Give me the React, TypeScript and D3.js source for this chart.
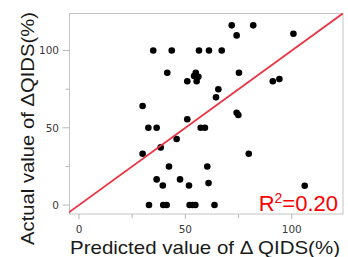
import React from 'react';
import * as d3 from 'd3';

// predicted vs actual change of QIDS (%)
const predicted = [
  71.8, 81.9, 100.8, 74.1, 34.9, 43.6, 56.4, 61.1, 67.1, 41.5,
  54.9, 54.1, 56.1, 55.3, 50.9, 75.2, 91.1, 94.2, 65.5, 64.4,
  29.9, 50.9, 74.1, 74.9, 32.6, 36.5, 57.2, 59.2, 29.9, 38.4,
  45.9, 79.8, 42.3, 60.3, 36.5, 47.5, 39.4, 51.7, 60.9, 106.1,
  32.9, 39.6, 41.2, 52.0, 53.4, 54.7, 63.7,
];
const actual = [
  116.3, 116.3, 110.9, 109.8, 100, 100, 100, 100, 100, 85.6,
  85.6, 83.5, 83.0, 80.1, 80.1, 85.6, 80.1, 81.6, 74.9, 69.7,
  64.1, 55.5, 59.7, 58.3, 50, 50, 50, 50, 33.2, 37.3,
  42.7, 33.2, 24.9, 24.9, 16.6, 16.6, 12.6, 12.6, 14.2, 12.5,
  0, 0, 0, 0, 0, 0, 0,
];

const majorTicks = [0, 50, 100];
const minorTicks = [25, 75];
const xDomain = [-4.7, 124.1];
const yDomain = [-5.8, 124.3];
const identity = [-4.7, 124.1]; // reference line y = x
const r2Value = '0.20';

const W = 348;
const H = 257;

export default function App() {
  const x = d3.scaleLinear().domain(xDomain).range([69, 343]);
  const y = d3.scaleLinear().domain(yDomain).range([214, 13]);
  const pts = predicted.map((p, i) => [p, actual[i]] as [number, number]);

  const line = d3.line<number>()
    .x(d => x(d))
    .y(d => y(d));

  const tickFont = 'DejaVu Sans, Verdana, sans-serif';
  const titleFont = 'Liberation Sans, Arial, sans-serif';

  return (
    <svg width={W} height={H} style={{ position: 'absolute', left: 0, top: 0, background: '#fff' }}>
      <defs>
        <clipPath id="plot">
          <rect x={69} y={13} width={274} height={201} />
        </clipPath>
      </defs>

      {/* frame */}
      <rect x={69.5} y={13.5} width={273.5} height={200.5} fill="none" stroke="#c4c4c4" strokeWidth={1} />

      {/* y ticks */}
      {majorTicks.map(t => (
        <g key={'ym' + t}>
          <line x1={62.5} x2={69.5} y1={y(t)} y2={y(t)} stroke="#b8b8b8" />
          <text x={59} y={y(t)} dy="0.36em" textAnchor="end" fontSize={10.5} fill="#3a3a3a" fontFamily={tickFont}>{t}</text>
        </g>
      ))}
      {minorTicks.map(t => (
        <line key={'yn' + t} x1={65.5} x2={69.5} y1={y(t)} y2={y(t)} stroke="#b8b8b8" />
      ))}

      {/* x ticks */}
      {majorTicks.map(t => (
        <g key={'xm' + t}>
          <line x1={x(t)} x2={x(t)} y1={214} y2={219} stroke="#b8b8b8" />
          <text x={x(t)} y={233} textAnchor="middle" fontSize={10.5} fill="#3a3a3a" fontFamily={tickFont}>{t}</text>
        </g>
      ))}
      {minorTicks.map(t => (
        <line key={'xn' + t} x1={x(t)} x2={x(t)} y1={214} y2={218} stroke="#b8b8b8" />
      ))}

      {/* points */}
      {pts.map((d, i) => (
        <circle key={i} cx={x(d[0])} cy={y(d[1])} r={3.3} fill="#000" />
      ))}

      {/* reference line */}
      <path d={line(identity) || ''} fill="none" stroke="#ec3344" strokeWidth={1.8} clipPath="url(#plot)" />

      <text x={338} y={211} textAnchor="end" fontSize={22} fill="#ff0000" fontFamily={titleFont}>
        R<tspan fontSize={14} dy={-8}>2</tspan><tspan dy={8}>={r2Value}</tspan>
      </text>

      {/* axis titles */}
      <text x={70} y={254} fontSize={18.5} fill="#1a1a1a" fontFamily={titleFont}
        textLength={270} lengthAdjust="spacingAndGlyphs">Predicted value of Δ QIDS(%)</text>
      <text transform="translate(34,245) rotate(-90)" fontSize={18.5} fill="#1a1a1a" fontFamily={titleFont}
        textLength={233} lengthAdjust="spacingAndGlyphs">Actual value of ΔQIDS(%)</text>
    </svg>
  );
}
